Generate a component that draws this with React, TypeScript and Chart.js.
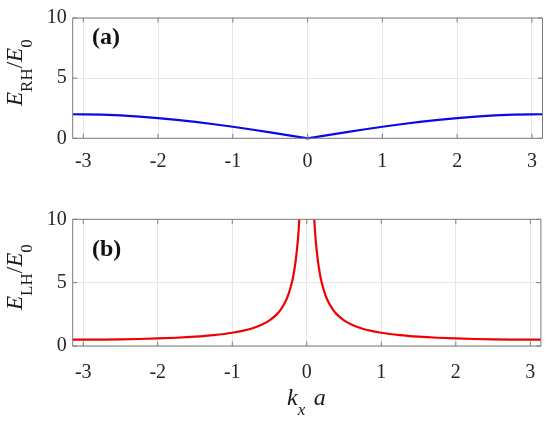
import React, { useEffect, useRef } from 'react';
import { Chart, registerables } from 'chart.js';
Chart.register(...registerables);

// ---- data ----
const kxRH = [-3.1416, -3, -2.75, -2.5, -2.25, -2, -1.75, -1.5, -1.25, -1, -0.75, -0.5, -0.25, 0,
  0.25, 0.5, 0.75, 1, 1.25, 1.5, 1.75, 2, 2.25, 2.5, 2.75, 3, 3.1416];
const ratioRH = [2.0, 1.995, 1.962, 1.898, 1.805, 1.683, 1.535, 1.363, 1.17, 0.959, 0.733, 0.495, 0.249, 0,
  0.249, 0.495, 0.733, 0.959, 1.17, 1.363, 1.535, 1.683, 1.805, 1.898, 1.962, 1.995, 2.0];

const kxLH = [-3.1416, -3, -2.75, -2.5, -2.25, -2, -1.75, -1.5, -1.25, -1, -0.8, -0.7, -0.6, -0.5, -0.4, -0.35,
  -0.3, -0.25, -0.2, -0.175, -0.15, -0.12, -0.1, -0.08, 0,
  0.08, 0.1, 0.12, 0.15, 0.175, 0.2, 0.25, 0.3, 0.35, 0.4, 0.5, 0.6, 0.7, 0.8, 1, 1.25, 1.5, 1.75, 2, 2.25, 2.5,
  2.75, 3, 3.1416];
const ratioLH: (number | null)[] = [0.5, 0.501, 0.51, 0.527, 0.554, 0.594, 0.651, 0.734, 0.855, 1.043, 1.284, 1.458,
  1.692, 2.021, 2.517, 2.872, 3.346, 4.01, 5.008, 5.722, 6.673, 8.338, 10.004, 12.5, null,
  12.5, 10.004, 8.338, 6.673, 5.722, 5.008, 4.01, 3.346, 2.872, 2.517, 2.021, 1.692, 1.458, 1.284, 1.043, 0.855,
  0.734, 0.651, 0.594, 0.554, 0.527, 0.51, 0.501, 0.5];

const xTicks = [-3, -2, -1, 0, 1, 2, 3];
const yTicks = [0, 5, 10];

const SERIF = "'Liberation Serif', 'Times New Roman', serif";

type Part = { text: string; size: number; italic?: boolean; dy: number };

function drawParts(ctx: CanvasRenderingContext2D, parts: Part[], startX: number, baseY: number) {
  let x = startX;
  for (const p of parts) {
    ctx.font = `${p.italic ? 'italic ' : ''}${p.size}px ${SERIF}`;
    ctx.fillText(p.text, x, baseY + p.dy);
    x += ctx.measureText(p.text).width;
  }
}
function partsWidth(ctx: CanvasRenderingContext2D, parts: Part[]) {
  let w = 0;
  for (const p of parts) {
    ctx.font = `${p.italic ? 'italic ' : ''}${p.size}px ${SERIF}`;
    w += ctx.measureText(p.text).width;
  }
  return w;
}

interface PanelProps {
  top: number;
  height: number;
  chartTop: number;
  chartBottom: number;
  xs: number[];
  ys: (number | null)[];
  color: string;
  label: string;
  labelBase: number;
  sub: string;
  tickPad: number;
  xTitle: boolean;
  smooth: boolean;
}

function Panel(p: PanelProps) {
  const ref = useRef<HTMLCanvasElement>(null);
  useEffect(() => {
    const canvas = ref.current!;
    const boxColor = '#7d7d7d';
    const overlay = {
      id: 'matlabBox',
      afterDraw(chart: any) {
        const { ctx, chartArea: a, scales } = chart;
        ctx.save();
        ctx.strokeStyle = boxColor;
        ctx.lineWidth = 1;
        ctx.beginPath();
        ctx.rect(a.left, a.top, a.right - a.left, a.bottom - a.top);
        ctx.stroke();
        const tl = 4.5;
        ctx.beginPath();
        for (const t of xTicks) {
          const x = scales.x.getPixelForValue(t);
          ctx.moveTo(x, a.bottom); ctx.lineTo(x, a.bottom - tl);
          ctx.moveTo(x, a.top); ctx.lineTo(x, a.top + tl);
        }
        for (const t of yTicks) {
          const y = scales.y.getPixelForValue(t);
          ctx.moveTo(a.left, y); ctx.lineTo(a.left + tl, y);
          ctx.moveTo(a.right, y); ctx.lineTo(a.right - tl, y);
        }
        ctx.stroke();

        ctx.fillStyle = '#111';
        ctx.textBaseline = 'alphabetic';
        ctx.textAlign = 'left';
        ctx.font = `bold 24px ${SERIF}`;
        ctx.fillText(p.label, 92, p.labelBase);

        // y title (rotated)
        const yParts: Part[] = [
          { text: 'E', size: 23, italic: true, dy: 0 },
          { text: p.sub, size: 17, dy: 10 },
          { text: '/', size: 23, dy: 0 },
          { text: 'E', size: 23, italic: true, dy: 0 },
          { text: '0', size: 17, dy: 10 },
        ];
        ctx.fillStyle = '#1a1a1a';
        const w = partsWidth(ctx, yParts);
        const cy = (a.top + a.bottom) / 2 - 5.5;
        ctx.save();
        ctx.translate(22, cy);
        ctx.rotate(-Math.PI / 2);
        drawParts(ctx, yParts, -w / 2, 0);
        ctx.restore();

        if (p.xTitle) {
          const xParts: Part[] = [
            { text: 'k', size: 24, italic: true, dy: 0 },
            { text: 'x', size: 17, italic: true, dy: 10 },
            { text: '  ', size: 17, dy: 0 },
            { text: 'a', size: 24, italic: true, dy: 0 },
          ];
          drawParts(ctx, xParts, 287, 205);
        }
        ctx.restore();
      },
    };

    const chart = new Chart(canvas, {
      type: 'line',
      data: {
        datasets: [
          {
            data: p.xs.map((x, i) => ({ x, y: p.ys[i] })) as any,
            borderColor: p.color,
            borderWidth: 2.2,
            pointRadius: 0,
            fill: false,
            spanGaps: false,
            tension: 0,
            cubicInterpolationMode: p.smooth ? 'monotone' : 'default',
            clip: { left: 3, top: 0, right: 3, bottom: 3 } as any,
          },
        ],
      },
      options: {
        responsive: false,
        animation: false,
        devicePixelRatio: 1,
        layout: { padding: { top: p.chartTop, right: 550 - 542.5, left: 0, bottom: 0 } },
        plugins: { legend: { display: false }, tooltip: { enabled: false } },
        scales: {
          x: {
            type: 'linear',
            min: -Math.PI,
            max: Math.PI,
            afterBuildTicks: (s: any) => {
              s.ticks = xTicks.map((v) => ({ value: v }));
            },
            afterFit: (s: any) => {
              s.height = p.height - p.chartBottom;
            },
            ticks: {
              autoSkip: false,
              maxRotation: 0,
              padding: p.tickPad,
              color: '#262626',
              font: { family: SERIF, size: 20 },
              callback: (v: any) => String(v),
            },
            grid: { color: '#e6e6e6', drawTicks: false, lineWidth: 1 },
            border: { display: false },
          },
          y: {
            type: 'linear',
            min: 0,
            max: 10,
            afterBuildTicks: (s: any) => {
              s.ticks = yTicks.map((v) => ({ value: v }));
            },
            afterFit: (s: any) => {
              s.width = 72.7;
            },
            ticks: {
              padding: 6,
              color: '#262626',
              font: { family: SERIF, size: 20 },
              callback: (v: any) => String(v),
            },
            grid: { color: '#e6e6e6', drawTicks: false, lineWidth: 1 },
            border: { display: false },
          },
        },
      },
      plugins: [overlay],
    });
    return () => chart.destroy();
  }, []);
  return (
    <canvas
      ref={ref}
      width={550}
      height={p.height}
      style={{ position: 'absolute', left: 0, top: p.top, width: 550, height: p.height }}
    />
  );
}

export default function App() {
  return (
    <div style={{ position: 'absolute', left: 0, top: 0, width: 550, height: 422, background: '#fff' }}>
      <Panel top={0} height={205} chartTop={13} chartBottom={138.3} xs={kxRH} ys={ratioRH} color="#0a0ae6"
        label="(a)" labelBase={44} sub="RH" tickPad={11} xTitle={false} smooth={false} />
      <Panel top={200} height={222} chartTop={19.3} chartBottom={146} xs={kxLH} ys={ratioLH} color="#f00000"
        label="(b)" labelBase={56} sub="LH" tickPad={14.5} xTitle={true} smooth={true} />
    </div>
  );
}
